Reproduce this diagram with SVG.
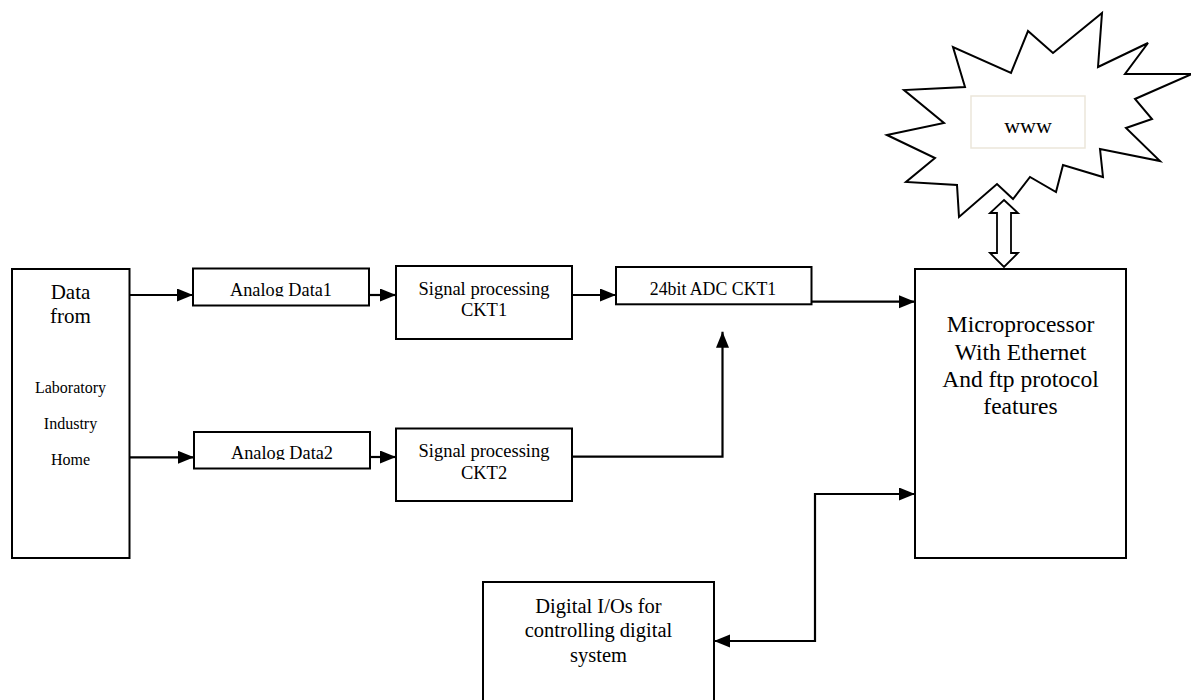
<svg xmlns="http://www.w3.org/2000/svg" width="1191" height="700" viewBox="0 0 1191 700" font-family="'Liberation Serif', 'DejaVu Serif', serif">
<style>
.box{fill:#fff;stroke:#000;stroke-width:2}
.t{font-family:'Liberation Serif','DejaVu Serif',serif;fill:#000;text-anchor:middle}
.ln{fill:none;stroke:#000;stroke-width:2.2}
</style>
<defs>
<marker id="ah" markerUnits="userSpaceOnUse" markerWidth="17" markerHeight="14" refX="16" refY="6.5" orient="auto-start-reverse">
<path d="M0,0 L16,6.5 L0,13 z" fill="#000"/>
</marker>
<clipPath id="c1"><rect x="190" y="260" width="185" height="36.5"/></clipPath>
<clipPath id="c2"><rect x="190" y="425" width="185" height="35"/></clipPath>
</defs>
<rect width="1191" height="700" fill="#fff"/>

<g id="www">
<polygon points="887,135 944,123 904,90 965,87 953,47 1011,73 1028,31 1053,53 1102,13 1098,67 1148,43 1125,74 1192,74 1135,99 1152,119 1126,128 1160,161 1100,149 1103,177 1063,165 1056,192 1030,177 1013,199 997,184 959,217 957,185 906,182 935,158" fill="#fff" stroke="#000" stroke-width="2" stroke-linejoin="miter"/>
<rect x="971" y="96" width="114" height="52" fill="#fff" stroke="#ebe6da" stroke-width="1.5"/>
<text class="t" x="1028" y="133" font-size="22">www</text>
</g>

<g id="dataFrom">
<rect class="box" x="12" y="269" width="117.5" height="289"/>
<text class="t" x="70.5" y="299" font-size="21">Data</text>
<text class="t" x="70.5" y="323" font-size="21">from</text>
<text class="t" x="70.5" y="393" font-size="16">Laboratory</text>
<text class="t" x="70.5" y="429" font-size="16">Industry</text>
<text class="t" x="70.5" y="465" font-size="16">Home</text>
</g>

<g id="analog1">
<rect class="box" x="193" y="268.5" width="176" height="37"/>
<text class="t" x="281" y="295.8" font-size="18.3" clip-path="url(#c1)">Analog Data1</text>
</g>

<g id="analog2">
<rect class="box" x="194" y="432" width="176" height="36.5"/>
<text class="t" x="282" y="459" font-size="18.3" clip-path="url(#c2)">Analog Data2</text>
</g>

<g id="sp1">
<rect class="box" x="396" y="266" width="176" height="73"/>
<text class="t" x="484" y="295" font-size="18.5">Signal processing</text>
<text class="t" x="484" y="316" font-size="18.5">CKT1</text>
</g>

<g id="sp2">
<rect class="box" x="396" y="428.5" width="176" height="72.5"/>
<text class="t" x="484" y="456.7" font-size="18.5">Signal processing</text>
<text class="t" x="484" y="479.3" font-size="18.5">CKT2</text>
</g>

<g id="adc">
<rect class="box" x="616" y="267" width="195.5" height="37.3"/>
<text class="t" x="713" y="295" font-size="17.8">24bit ADC CKT1</text>
</g>

<g id="micro">
<rect class="box" x="915" y="269" width="211" height="289"/>
<text class="t" x="1020.5" y="332" font-size="23.5">Microprocessor</text>
<text class="t" x="1020.5" y="359.5" font-size="23.5">With Ethernet</text>
<text class="t" x="1020.5" y="387" font-size="23.5">And ftp protocol</text>
<text class="t" x="1020.5" y="414" font-size="23.5">features</text>
</g>

<g id="dio">
<path d="M483,700 L483,582 L714,582 L714,700" fill="#fff" stroke="#000" stroke-width="2"/>
<text class="t" x="598.5" y="613" font-size="20.5">Digital I/Os for</text>
<text class="t" x="598.5" y="637" font-size="20.5">controlling digital</text>
<text class="t" x="598.5" y="662" font-size="20.5">system</text>
</g>

<g id="connectors">
<line class="ln" x1="129.5" y1="295" x2="193" y2="295" marker-end="url(#ah)"/>
<line class="ln" x1="129.5" y1="457.3" x2="194" y2="457.3" marker-end="url(#ah)"/>
<line class="ln" x1="369" y1="295" x2="396" y2="295" marker-end="url(#ah)"/>
<line class="ln" x1="370" y1="457" x2="396" y2="457" marker-end="url(#ah)"/>
<line class="ln" x1="572" y1="295" x2="616" y2="295" marker-end="url(#ah)"/>
<line class="ln" x1="811.5" y1="301.7" x2="915" y2="301.7" marker-end="url(#ah)"/>
<polyline class="ln" points="572,456.7 722.5,456.7 722.5,331.7" marker-end="url(#ah)"/>
<polyline class="ln" points="714,641 815,641 815,494 915,494" marker-start="url(#ah)" marker-end="url(#ah)"/>
<polygon points="1004,200 1018,213 1011,213 1011,253 1018,253 1004,267 990,253 997,253 997,213 990,213" fill="#fff" stroke="#000" stroke-width="1.8"/>
</g>
</svg>
